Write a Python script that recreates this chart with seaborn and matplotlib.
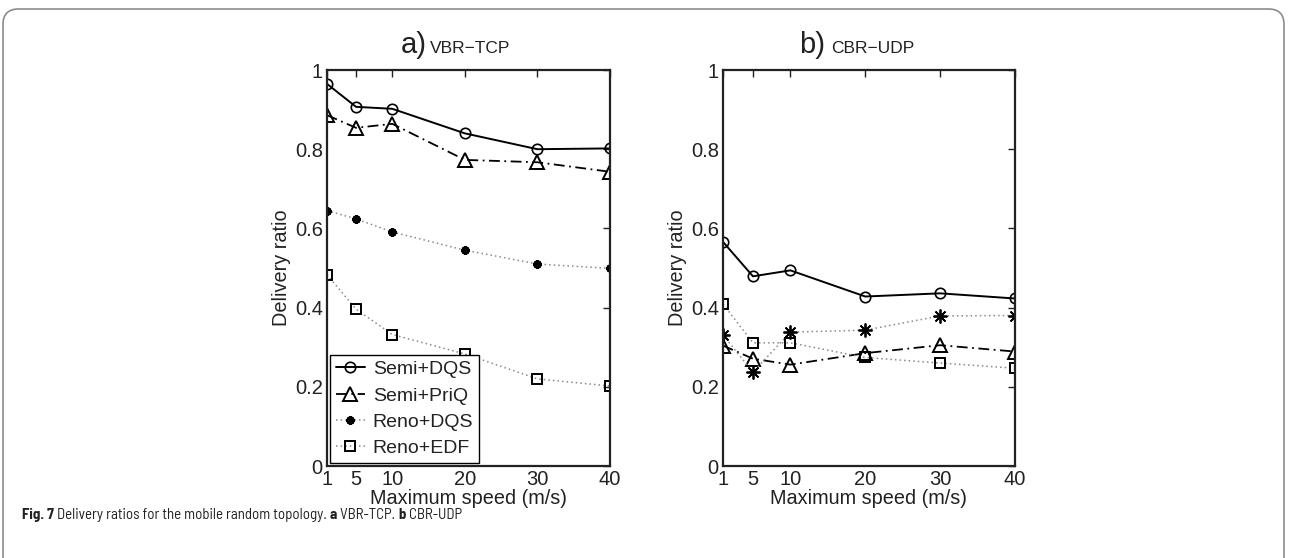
import numpy as np
import pandas as pd
import matplotlib
matplotlib.use("Agg")
import matplotlib.pyplot as plt
import seaborn as sns
from matplotlib.patches import FancyBboxPatch

# ---------------- data ----------------
speeds = [1, 5, 10, 20, 30, 40]
series_names = ["Semi+DQS", "Semi+PriQ", "Reno+DQS", "Reno+EDF"]

vbr_semi_dqs = [0.965, 0.907, 0.902, 0.840, 0.800, 0.802]
vbr_semi_priq = [0.886, 0.854, 0.864, 0.773, 0.767, 0.743]
vbr_reno_dqs = [0.645, 0.624, 0.591, 0.545, 0.510, 0.499]
vbr_reno_edf = [0.483, 0.396, 0.332, 0.283, 0.220, 0.202]

cbr_semi_dqs = [0.566, 0.479, 0.494, 0.428, 0.436, 0.423]
cbr_semi_priq = [0.304, 0.271, 0.256, 0.285, 0.305, 0.289]
cbr_reno_dqs = [0.331, 0.237, 0.338, 0.343, 0.379, 0.380]
cbr_reno_edf = [0.409, 0.311, 0.311, 0.274, 0.260, 0.247]

x_ticks = [1, 5, 10, 20, 30, 40]
y_ticks = [0, 0.2, 0.4, 0.6, 0.8, 1.0]
y_tick_labels = ["0", "0.2", "0.4", "0.6", "0.8", "1"]

panel_letters = ["a)", "b)"]
panel_names = ["VBR\u2212TCP", "CBR\u2212UDP"]
x_label = "Maximum speed (m/s)"
y_label = "Delivery ratio"
caption_parts = [("Fig. 7", "bold"), (" Delivery ratios for the mobile random topology. ", "normal"),
                 ("a", "bold"), (" VBR-TCP. ", "normal"), ("b", "bold"), (" CBR-UDP", "normal")]


def make_df(vals):
    rows = []
    for name, v in zip(series_names, vals):
        for s, r in zip(speeds, v):
            rows.append({"speed": s, "ratio": r, "series": name})
    return pd.DataFrame(rows)


df_a = make_df([vbr_semi_dqs, vbr_semi_priq, vbr_reno_dqs, vbr_reno_edf])
df_b = make_df([cbr_semi_dqs, cbr_semi_priq, cbr_reno_dqs, cbr_reno_edf])

# ---------------- style ----------------
sns.set_style("white")
plt.rcParams["font.family"] = ["Liberation Sans", "DejaVu Sans"]

W, H = 1290, 558
fig = plt.figure(figsize=(W / 100, H / 100), dpi=100)
INK = "#222222"


def px_axes(l, r, t, b):
    return fig.add_axes([l / W, 1 - b / H, (r - l) / W, (b - t) / H])


ax_a = px_axes(327, 610, 70, 466)
ax_b = px_axes(723, 1015, 70, 466)

styles_common = {
    "Semi+DQS": dict(color="black", linestyle="-", lw=1.4, marker="o", ms=7.5,
                     mfc="none", mew=1.2),
    "Semi+PriQ": dict(color="black", linestyle=(0, (6, 2.5, 1, 2.5)), lw=1.3, marker="^",
                      ms=9.5, mfc="none", mew=1.4),
    "Reno+EDF": dict(color="#8a8a8a", linestyle=(0, (1, 2)), lw=1.1, marker="s", ms=7,
                     mfc="none", mew=1.4),
}
reno_dqs_a = dict(color="#8a8a8a", linestyle=(0, (1, 2)), lw=1.1, marker=(8, 2, 0), ms=6,
                  mfc="black", mew=1.8)
reno_dqs_b = dict(color="#8a8a8a", linestyle=(0, (1, 2)), lw=1.1, marker=(8, 2, 0), ms=10,
                  mfc="black", mew=1.3)


def draw(ax, df, reno_style):
    for name in series_names:
        st = dict(reno_style) if name == "Reno+DQS" else dict(styles_common[name])
        sub = df[df["series"] == name]
        sns.lineplot(data=sub, x="speed", y="ratio", ax=ax, label=name,
                     color=st["color"], linestyle=st["linestyle"], linewidth=st["lw"],
                     marker=st["marker"], markersize=st["ms"],
                     markerfacecolor=st["mfc"], markeredgecolor="black",
                     markeredgewidth=st["mew"], errorbar=None, sort=False, legend=True)
    ax.set_xlim(1, 40)
    ax.set_ylim(0, 1)
    ax.set_xticks(x_ticks)
    ax.set_xticklabels([str(t) for t in x_ticks])
    ax.set_yticks(y_ticks)
    ax.set_yticklabels(y_tick_labels)
    ax.tick_params(direction="in", top=True, right=True, length=5, width=1.0,
                   labelsize=14.5, pad=3, colors=INK, labelcolor=INK)
    for sp in ax.spines.values():
        sp.set_linewidth(1.6)
        sp.set_color(INK)
    ax.set_xlabel(x_label, fontsize=14.3, labelpad=0, color=INK)
    ax.set_ylabel(y_label, fontsize=14.3, labelpad=3, color=INK)


draw(ax_a, df_a, reno_dqs_a)
draw(ax_b, df_b, reno_dqs_b)

handles, labels = ax_a.get_legend_handles_labels()
leg = ax_a.legend(handles, labels, loc="lower left", bbox_to_anchor=(0.0, 0.0),
                  borderaxespad=0.15, frameon=True, fancybox=False, edgecolor="black",
                  framealpha=1, fontsize=14, handlelength=1.5, handletextpad=0.4,
                  labelspacing=0.45, borderpad=0.3)
leg.get_frame().set_linewidth(1.0)
for t in leg.get_texts():
    t.set_color(INK)
ax_b.get_legend().remove()

# titles
for letter, name, lx, nx in [(panel_letters[0], panel_names[0], 401, 430),
                             (panel_letters[1], panel_names[1], 799, 831)]:
    fig.text(lx / W, 1 - 53 / H, letter, fontsize=21, va="baseline", ha="left", color=INK)
    fig.text(nx / W, 1 - 53 / H, name, fontsize=12.5, va="baseline", ha="left", color=INK)

# caption (fitted to the reference width)
renderer = fig.canvas.get_renderer()
cap_family = ["Barlow Semi Condensed", "Asap Condensed", "Liberation Sans"]


def put_caption(fs):
    cx = 22
    texts = []
    for txt, wt in caption_parts:
        t = fig.text(cx / W, 1 - 519 / H, txt, fontsize=fs, fontweight=wt, va="baseline",
                     ha="left", color=INK, family=cap_family)
        texts.append(t)
        cx = t.get_window_extent(renderer).x1
    return texts, cx


texts, right = put_caption(11)
for t in texts:
    t.remove()
fs = min(11.5, 11 * (463 - 22) / (right - 22))
put_caption(fs)

# border frame
frame = FancyBboxPatch((3 / W, -0.2), (1284 - 3) / W, 1 - 9 / H + 0.2,
                       boxstyle="round,pad=0,rounding_size=0.012",
                       transform=fig.transFigure, fill=False, edgecolor="#8c8c8c",
                       linewidth=1.2, mutation_aspect=W / H)
fig.patches.append(frame)

fig.savefig("out.png", dpi=100)
